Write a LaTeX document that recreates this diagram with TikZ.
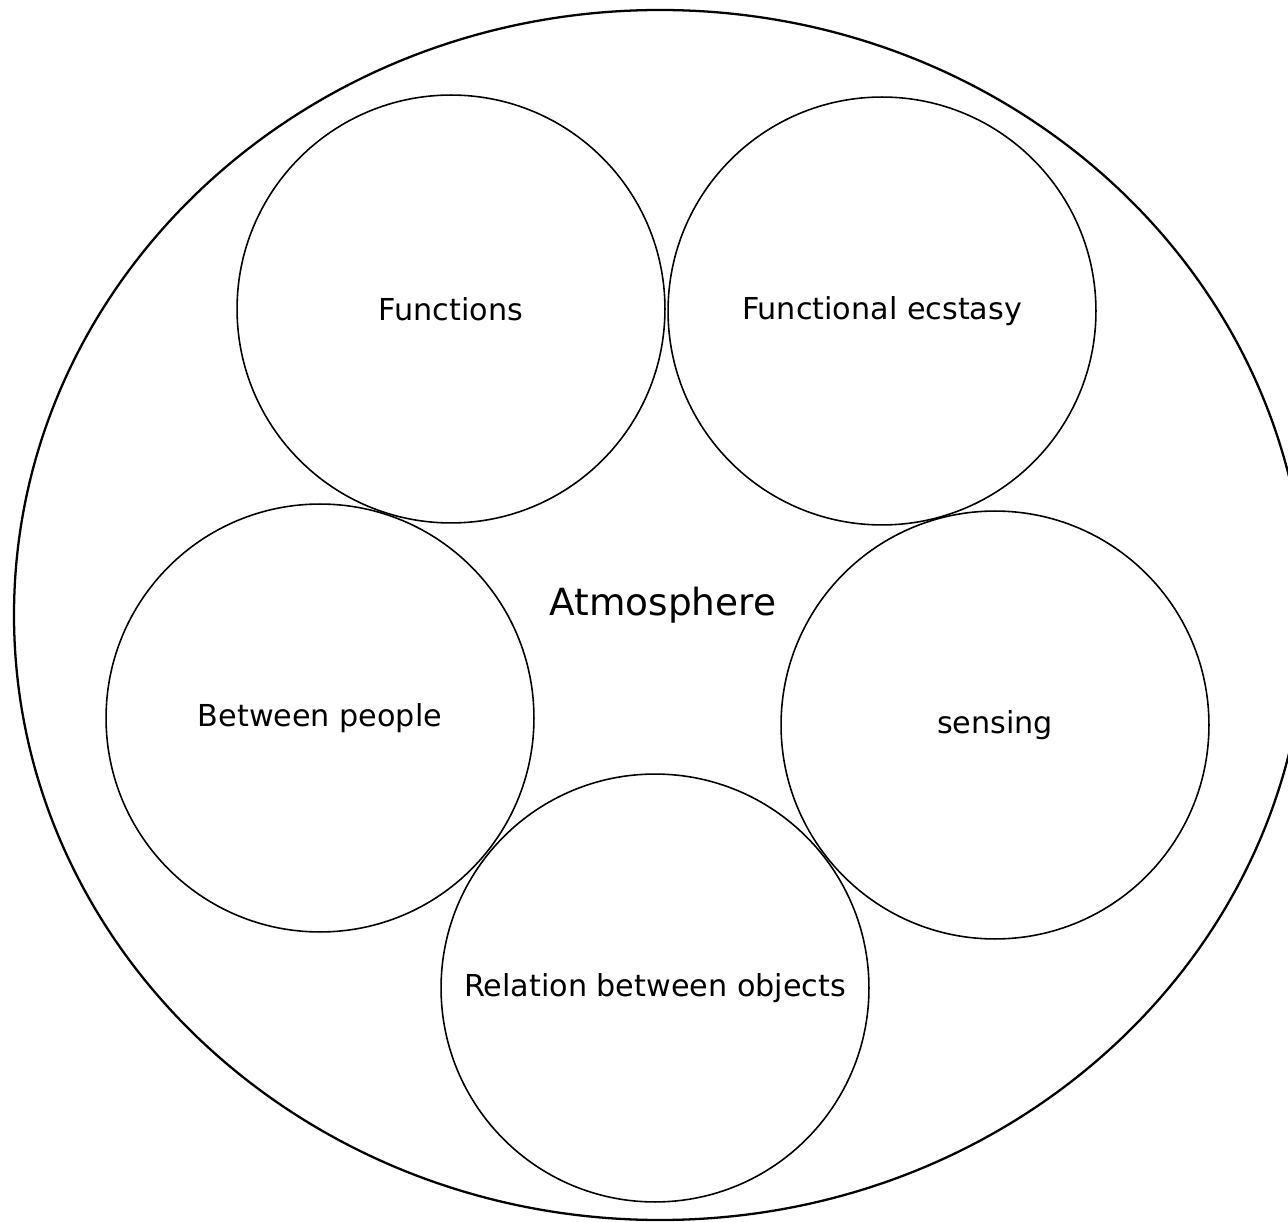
\documentclass[tikz,border=0pt]{standalone}
\usepackage{fontspec}
\setmainfont{DejaVu Sans}
\usetikzlibrary{positioning}

\tikzset{
  aspect/.style={circle, draw, line width=0.9pt, minimum size=8.56cm, inner sep=0pt, font=\fontsize{17.2}{20}\selectfont}
}

\begin{document}
\begin{tikzpicture}[x=0.02cm, y=-0.02cm]
    \useasboundingbox (0,0) rectangle (1288,1222);
    \clip (0,0) rectangle (1288,1222);

    % outer atmosphere
    \draw[line width=1.3pt] (660,615) ellipse [x radius=646, y radius=605];
    \node (atmo) at (663,605) {\fontsize{21.3}{24}\selectfont Atmosphere};

    % the five aspects
    \node[aspect] (func) at (451,309) {Functions};
    \node[aspect] (ecst) at (882,311) {Functional ecstasy};
    \node[aspect] (peop) at (320,718) {\raisebox{-4pt}{Between people}};
    \node[aspect] (sens) at (995,725) {\raisebox{-4pt}{sensing}};
    \node[aspect] (obj)  at (655,988) {\raisebox{-2pt}{Relation between objects}};
\end{tikzpicture}
\end{document}
